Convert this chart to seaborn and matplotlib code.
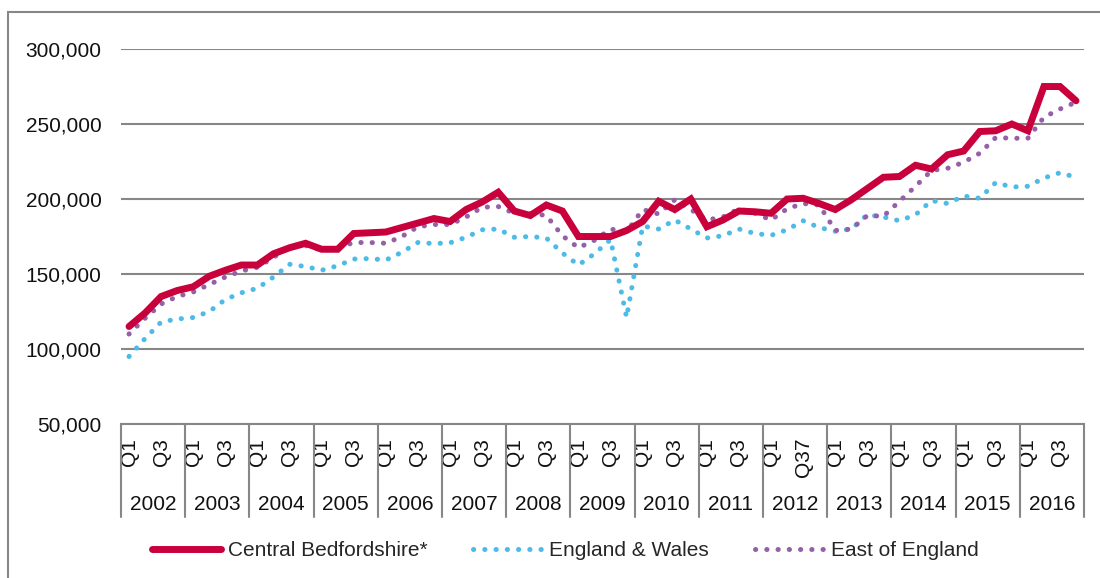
import pandas as pd
import matplotlib
matplotlib.use("Agg")
import matplotlib.pyplot as plt
import matplotlib.patches as mpatches
import seaborn as sns

# quarterly average house prices, 2002 Q1 .. 2016 Q4
years = list(range(2002, 2017))
quarter_labels = []
for y in years:
    quarter_labels += ["Q1", "Q37" if y == 2012 else "Q3"]

central_beds = [115000, 124000, 135000, 139000, 141500, 148500, 152500, 156000,
                156000, 163500, 167500, 170500, 166500, 166500, 177000, 177500,
                178000, 181000, 184000, 187000, 185000, 193000, 198000, 204500,
                192000, 189000, 196000, 192000, 175000, 175000, 175000, 179000,
                185000, 198500, 193000, 200000, 181500, 186000, 192000, 191500,
                190500, 200000, 200500, 197000, 193000, 199500, 207000, 214500,
                215000, 222500, 220000, 229500, 232000, 245000, 245500, 250000,
                245500, 275000, 275000, 265500]
england_wales = [95000, 107000, 118000, 120000, 121000, 125000, 133000, 137500,
                 140500, 148000, 156500, 155000, 152500, 155500, 160000, 160300,
                 159300, 164500, 171000, 170300, 170800, 174500, 179500, 180000,
                 174500, 175000, 174000, 164000, 156000, 163500, 173000, 121000,
                 182000, 180000, 186000, 180000, 174000, 175500, 180000, 177000,
                 175800, 179500, 185500, 181000, 178500, 180000, 189500, 188000,
                 185500, 189500, 199000, 197000, 202000, 200500, 211000, 208000,
                 208500, 214000, 217500, 214500]
east_england = [110000, 120500, 130000, 135000, 138000, 143000, 148000, 152000,
                154500, 161000, 168500, 169000, 166000, 167500, 171000, 171000,
                170500, 175000, 181500, 183000, 183000, 188000, 194500, 195000,
                190500, 190500, 189000, 175500, 167500, 172500, 180000, 178000,
                193000, 190000, 199500, 193000, 186000, 188000, 193500, 190500,
                186000, 193500, 197000, 196000, 179000, 180000, 189000, 188500,
                198500, 208500, 219000, 220500, 224500, 230500, 241000, 240500,
                240500, 254500, 260000, 264500]

df = pd.DataFrame({
    "q": range(len(central_beds)),
    "Central Bedfordshire*": central_beds,
    "England & Wales": england_wales,
    "East of England": east_england,
})

sns.set_style("white")
plt.rcParams["font.family"] = ["Liberation Sans", "DejaVu Sans"]

grey = "#878787"
fig = plt.figure(figsize=(11, 5.78), dpi=100)
ax = fig.add_axes([0.11, 0.2664, 0.8755, 0.6488])

dots = (0, (0.05, 2.2))
sns.lineplot(data=df, x="q", y="England & Wales", ax=ax, color="#4DBBE8",
             lw=3.6, linestyle=dots, dash_capstyle="round",
             label="England & Wales", zorder=3)
sns.lineplot(data=df, x="q", y="East of England", ax=ax, color="#9560A8",
             lw=3.6, linestyle=dots, dash_capstyle="round",
             label="East of England", zorder=4)
sns.lineplot(data=df, x="q", y="Central Bedfordshire*", ax=ax, color="#C8003C",
             lw=5, solid_joinstyle="miter", label="Central Bedfordshire*", zorder=5)

ax.set_xlim(-0.5, len(central_beds) - 0.5)
ax.set_ylim(50000, 300000)
ax.set_yticks(range(50000, 300001, 50000))
ax.yaxis.set_major_formatter(matplotlib.ticker.FuncFormatter(lambda v, p: f"{int(v):,}"))
ax.grid(axis="y", color=grey, lw=1.5)
ax.set_axisbelow(True)
ax.set_xlabel("")
ax.set_ylabel("")

qpos = [i for i in range(len(central_beds)) if i % 4 in (0, 2)]
ax.set_xticks(qpos)
ax.set_xticklabels(quarter_labels, rotation=90, va="top", ha="center")
ax.tick_params(axis="x", length=0, pad=10, labelsize=15, colors="#111111")
ax.tick_params(axis="y", length=0, pad=14, labelsize=15, colors="#111111")

for s in ["top", "right", "left"]:
    ax.spines[s].set_visible(False)
ax.spines["bottom"].set_color(grey)
ax.spines["bottom"].set_linewidth(1.5)

# year category boxes under the axis
tr = ax.get_xaxis_transform()
for k in range(len(years) + 1):
    ax.plot([4 * k - 0.5] * 2, [0, -0.248], transform=tr, color=grey,
            lw=1.5, clip_on=False)
for k, y in enumerate(years):
    ax.text(4 * k + 1.5, -0.215, str(y), transform=tr, ha="center",
            va="center", fontsize=15, color="#111111")

h, l = ax.get_legend_handles_labels()
order = [l.index("Central Bedfordshire*"), l.index("England & Wales"),
         l.index("East of England")]
ax.get_legend().remove()
fig.legend([h[i] for i in order], [l[i] for i in order], loc="center",
           bbox_to_anchor=(0.514, 0.047), ncol=3, frameon=False, fontsize=15,
           handlelength=3.3, handletextpad=0.35, columnspacing=2.2)

fig.patches.append(mpatches.Rectangle((8 / 1100, -0.1), 1.2, 1 - 12 / 578 + 0.1,
                                      transform=fig.transFigure, fill=False,
                                      edgecolor=grey, lw=1.5))

fig.savefig("out.png", dpi=100)
